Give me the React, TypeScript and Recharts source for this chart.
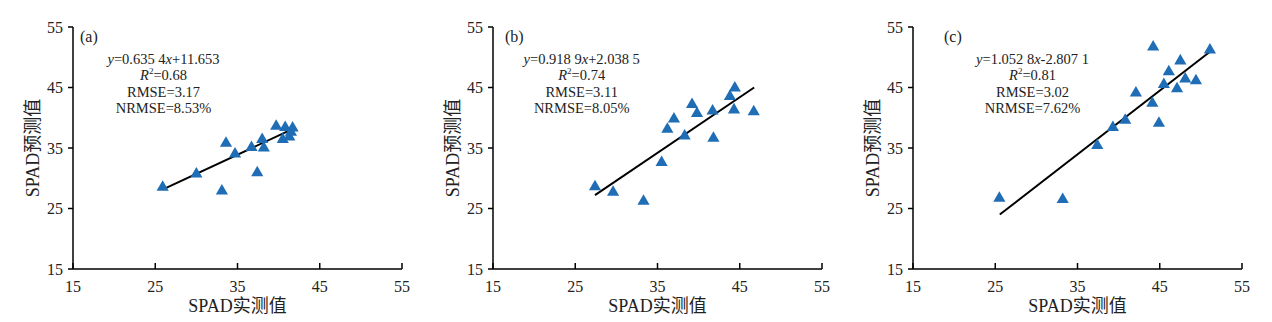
import { ReferenceLine, Scatter, ScatterChart, XAxis, YAxis, ZAxis } from "recharts";

const axisTicks = [15, 25, 35, 45, 55];

// (a)
const measuredA = [25.9, 30.0, 33.6, 33.1, 34.7, 36.7, 37.4, 38.0, 38.2, 39.7, 40.8, 41.7, 40.5, 41.3, 41.5];
const predictedA = [28.5, 30.7, 35.8, 27.9, 34.0, 35.1, 30.9, 36.4, 35.0, 38.6, 38.4, 38.3, 36.4, 36.8, 37.6];
const fitA = [{ x: 26, y: 28.2 }, { x: 41.8, y: 38.2 }];

// (b)
const measuredB = [27.4, 29.6, 33.3, 35.5, 36.2, 37.0, 38.3, 39.2, 39.8, 41.7, 41.8, 43.8, 44.4, 44.3, 46.7];
const predictedB = [28.6, 27.7, 26.2, 32.6, 38.1, 39.8, 37.0, 42.2, 40.7, 41.1, 36.6, 43.5, 44.9, 41.3, 41.0];
const fitB = [{ x: 27.4, y: 27.2 }, { x: 46.75, y: 45.0 }];

// (c)
const measuredC = [25.5, 33.2, 37.4, 39.3, 40.8, 42.1, 44.1, 44.9, 44.2, 45.5, 46.1, 47.1, 47.5, 48.1, 49.4, 51.1];
const predictedC = [26.7, 26.5, 35.4, 38.4, 39.6, 44.1, 42.4, 39.1, 51.7, 45.5, 47.6, 44.8, 49.4, 46.4, 46.1, 51.2];
const fitC = [{ x: 25.55, y: 24.0 }, { x: 51.1, y: 50.9 }];

const tags = ["(a)", "(b)", "(c)"];
const slopes = ["0.635 4", "0.918 9", "1.052 8"];
const intercepts = ["+11.653", "+2.038 5", "-2.807 1"];
const r2 = ["0.68", "0.74", "0.81"];
const rmse = ["3.17", "3.11", "3.02"];
const nrmse = ["8.53%", "8.05%", "7.62%"];

const toPoints = (xs: number[], ys: number[]) => xs.map((x, i) => ({ x, y: ys[i] }));

const panels = [
  { points: toPoints(measuredA, predictedA), fit: fitA, tagLeft: 72, textCenter: 155.5 },
  { points: toPoints(measuredB, predictedB), fit: fitB, tagLeft: 77, textCenter: 153.7 },
  { points: toPoints(measuredC, predictedC), fit: fitC, tagLeft: 96, textCenter: 184.5 },
];

const serif = "'Liberation Serif', 'Times New Roman', serif";
const cjk = "'Liberation Serif', 'Noto Sans CJK SC', serif";
const ink = "#222";

function XTick(props: any) {
  const { x, y, payload } = props;
  return (
    <g>
      <line x1={x} y1={y} x2={x} y2={y - 6} stroke="#000" strokeWidth={1.5} />
      <text x={x} y={y + 23} textAnchor="middle" fill={ink} fontSize={16} fontFamily={serif}>
        {payload.value}
      </text>
    </g>
  );
}

function XTitle(props: any) {
  const vb = props.viewBox;
  return (
    <text x={vb.x + vb.width / 2} y={vb.y + 43} textAnchor="middle" fill={ink} fontSize={18} fontFamily={cjk}>
      SPAD实测值
    </text>
  );
}

function YTitle(props: any) {
  const vb = props.viewBox;
  const cx = vb.x + 25;
  const cy = vb.y + vb.height / 2;
  return (
    <text
      x={cx}
      y={cy}
      textAnchor="middle"
      dominantBaseline="central"
      transform={`rotate(-90, ${cx}, ${cy})`}
      fill={ink}
      fontSize={18}
      fontFamily={cjk}
    >
      SPAD预测值
    </text>
  );
}

function Panel({ idx }: { idx: number }) {
  const p = panels[idx];
  return (
    <div style={{ position: "relative", width: 420, height: 314 }}>
      <ScatterChart width={420} height={314} margin={{ top: 19, right: 26, left: 0, bottom: 0 }}>
        <XAxis
          type="number"
          dataKey="x"
          domain={[15, 55]}
          ticks={axisTicks}
          height={53}
          axisLine={{ stroke: "#000", strokeWidth: 1.5 }}
          tickLine={false}
          tickSize={0}
          tickMargin={0}
          tick={<XTick />}
          label={<XTitle />}
        />
        <YAxis
          type="number"
          dataKey="y"
          domain={[15, 55]}
          ticks={axisTicks}
          width={65}
          axisLine={{ stroke: "#000", strokeWidth: 1.5 }}
          tickLine={{ stroke: "#000", strokeWidth: 1.5 }}
          tickSize={5}
          tickMargin={5}
          tick={{ fill: ink, fontSize: 16, fontFamily: serif }}
          label={<YTitle />}
        />
        <ZAxis range={[38, 38]} />
        <ReferenceLine segment={p.fit} stroke="#000" strokeWidth={2} ifOverflow="visible" />
        <Scatter data={p.points} shape="triangle" fill="#1f6db5" isAnimationActive={false} />
      </ScatterChart>
      <div
        style={{
          position: "absolute",
          left: p.tagLeft,
          top: 20,
          fontFamily: serif,
          fontSize: 16,
          lineHeight: "18px",
          color: ink,
        }}
      >
        {tags[idx]}
      </div>
      <div
        style={{
          position: "absolute",
          left: p.textCenter - 100,
          top: 42.75,
          width: 200,
          textAlign: "center",
          fontFamily: serif,
          fontSize: 14.5,
          lineHeight: "16.5px",
          color: ink,
        }}
      >
        <div>
          <i>y</i>={slopes[idx]}
          <i>x</i>
          {intercepts[idx]}
        </div>
        <div>
          <i>R</i>
          <sup style={{ fontSize: 9, lineHeight: 0 }}>2</sup>={r2[idx]}
        </div>
        <div>RMSE={rmse[idx]}</div>
        <div>NRMSE={nrmse[idx]}</div>
      </div>
    </div>
  );
}

export default function App() {
  return (
    <div style={{ display: "flex", width: 1260, height: 314, background: "#fff" }}>
      <Panel idx={0} />
      <Panel idx={1} />
      <Panel idx={2} />
    </div>
  );
}
